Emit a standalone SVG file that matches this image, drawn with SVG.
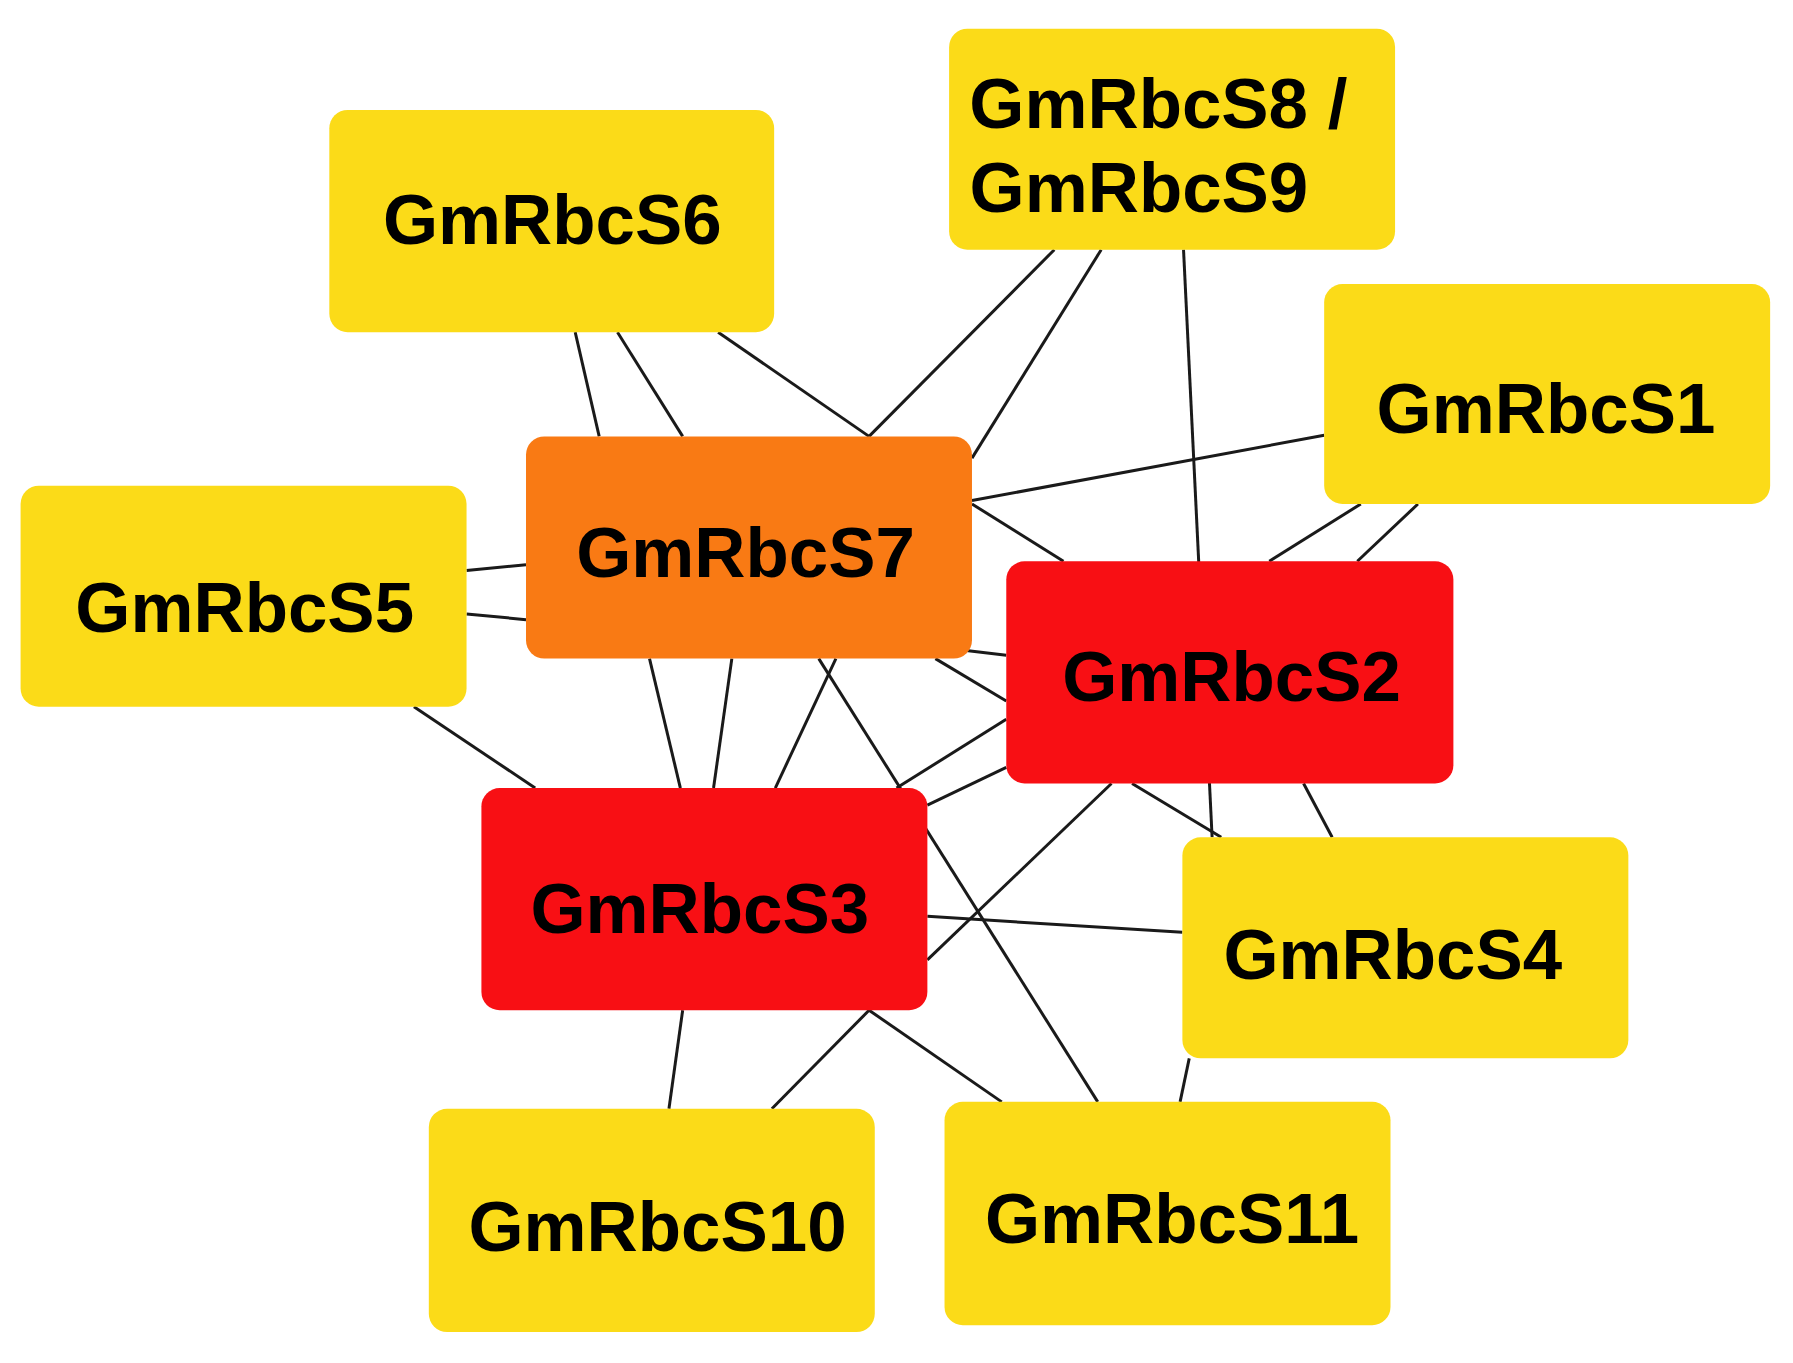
<svg xmlns="http://www.w3.org/2000/svg" width="1793" height="1363" viewBox="0 0 1793 1363">
<style>
.y{fill:#FBDB18}.o{fill:#F97A14}.r{fill:#F80F14}
text{font-family:"Liberation Sans",Arial,sans-serif;font-weight:bold;font-size:62px;fill:#000;text-anchor:middle}
#edges line{stroke:#1a1a1a;stroke-width:2.6}
</style>
<rect width="1793" height="1363" fill="#fff"/>
<g transform="scale(1.1435,1.1454)">
<g id="edges">
<line x1="503" y1="290" x2="524" y2="381"/>
<line x1="540" y1="290" x2="597" y2="381"/>
<line x1="628" y1="290" x2="760" y2="381"/>
<line x1="922" y1="218" x2="760" y2="381"/>
<line x1="963" y1="218" x2="850" y2="400"/>
<line x1="1035" y1="218" x2="1060" y2="731"/>
<line x1="1158" y1="380" x2="850" y2="437"/>
<line x1="1190" y1="440" x2="1110" y2="490"/>
<line x1="1240" y1="440" x2="1187" y2="490"/>
<line x1="850" y1="440" x2="930" y2="490"/>
<line x1="408" y1="498" x2="460" y2="493"/>
<line x1="408" y1="536" x2="460" y2="541"/>
<line x1="362" y1="617" x2="468" y2="688"/>
<line x1="568" y1="575" x2="595" y2="688"/>
<line x1="640" y1="575" x2="624" y2="688"/>
<line x1="731" y1="575" x2="678" y2="688"/>
<line x1="716" y1="575" x2="960" y2="962"/>
<line x1="818" y1="575" x2="880" y2="612"/>
<line x1="845" y1="568" x2="880" y2="572"/>
<line x1="880" y1="628" x2="784" y2="688"/>
<line x1="880" y1="670" x2="811" y2="703"/>
<line x1="972" y1="684" x2="811" y2="838"/>
<line x1="990" y1="684" x2="1068" y2="731"/>
<line x1="1140" y1="684" x2="1165" y2="731"/>
<line x1="811" y1="800" x2="1034" y2="814"/>
<line x1="597" y1="882" x2="585" y2="968"/>
<line x1="760" y1="882" x2="675" y2="968"/>
<line x1="760" y1="882" x2="876" y2="962"/>
<line x1="1040" y1="924" x2="1032" y2="962"/>
</g>
<g id="S6"><rect class="y" x="288" y="96" width="389" height="194" rx="16"/><text x="483" y="213">GmRbcS6</text></g>
<g id="S8S9"><rect class="y" x="830" y="25" width="390" height="193" rx="16"/><text x="1013" y="112">GmRbcS8 /</text><text x="996" y="185">GmRbcS9</text></g>
<g id="S1"><rect class="y" x="1158" y="248" width="390" height="192" rx="16"/><text x="1352" y="378">GmRbcS1</text></g>
<g id="S7"><rect class="o" x="460" y="381" width="390" height="194" rx="16"/><text x="652" y="504">GmRbcS7</text></g>
<g id="S5"><rect class="y" x="18" y="424" width="390" height="193" rx="16"/><text x="214" y="552">GmRbcS5</text></g>
<g id="S2"><rect class="r" x="880" y="490" width="391" height="194" rx="16"/><text x="1077" y="612">GmRbcS2</text></g>
<g id="S3"><rect class="r" x="421" y="688" width="390" height="194" rx="16"/><text x="612" y="815">GmRbcS3</text></g>
<g id="S4"><rect class="y" x="1034" y="731" width="390" height="193" rx="16"/><text x="1218" y="855">GmRbcS4</text></g>
<g id="S10"><rect class="y" x="375" y="968" width="390" height="195" rx="16"/><text x="575" y="1092">GmRbcS10</text></g>
<g id="S11"><rect class="y" x="826" y="962" width="390" height="195" rx="16"/><text x="1025" y="1085">GmRbcS11</text></g>
</g>
</svg>
